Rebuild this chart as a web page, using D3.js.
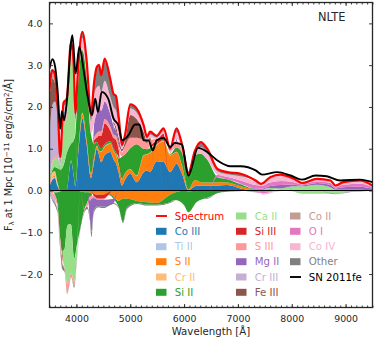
<!DOCTYPE html>
<html>
<head>
<meta charset="utf-8">
<script src="https://d3js.org/d3.v7.min.js"></script>
<style>
  html, body { margin: 0; padding: 0; background: #fff; }
  svg { display: block; }
  text { font-family: "DejaVu Sans", sans-serif; fill: #262626; }
</style>
</head>
<body>
<svg id="chart" width="374" height="341"></svg>
<script>
// emission side (stacked above zero)
var waves = [3500,3550,3600,3650,3700,3760,3820,3900,3950,3980, 4030,4110,4190,4270,4330,4380,4420,4460,4525,4630, 4690,4735,4790,4845,4900,5000,5120,5250,5310,5370, 5490,5620,5740,5860,5960,6080,6200,6310,6430,6620, 6800,7050,7330,7430,7600,7790,8040,8190,8470,8720, 8810,8960,9270,9500];
var coIII  = [.1,.25,.3,.1,0,0,0,.7,.35,.1, .8,1.72,1.1,.3,.7,1,.85,.68,.85,.92, .75,.65,.4,.12,.25,.4,.2,.44,.48,.45, .7,.68,.44,.64,.4,0,.1,.12,.12,.12, .13,.05,0,0,0,0,0,0,0,0, 0,0,0,0];
var tiII   = [.02,.03,.03,.01,0,0,0,0,0,0, 0,0,0,0,0,0,0,0,0,0, 0,0,0,0,0,0,0,0,0,0, 0,0,0,0,0,0,0,0,0,0, 0,0,0,0,0,0,0,0,0,0, 0,0,0,0];
var sII    = [.02,.03,.03,.02,0,0,0,.02,0,0, .05,.12,.1,.1,.1,.06,.1,.25,.2,.2, .2,.2,.2,.15,.15,.1,.15,.4,.38,.45, .38,.5,.4,.28,.2,.02,.15,.08,.07,.08, .06,.05,.02,.01,.01,.01,0,0,0,0, 0,0,0,0];
var crII   = [.08,.12,.1,.05,0,0,0,0,0,0, 0,.02,.01,.01,.01,.01,.01,.01,.01,.01, .01,.01,.01,.01,.01,.01,.01,.01,.01,.01, .01,.01,.01,.01,.01,0,0,0,0,0, 0,0,0,0,0,0,0,0,0,0, 0,0,0,0];
var siII   = [.05,.05,.1,.35,.5,.6,.9,.4,.85,1.25, 1.65,1.5,1.5,.95,.3,.1,.1,.07,.05,.05, .05,.05,.15,.53,.45,.5,.75,.15,.12,.1, .02,.02,.02,.1,.3,.36,.6,.68,.55,.12, .08,.05,.01,.01,.02,0,0,0,0,0, 0,0,0,0];
var caII   = [.05,.15,.2,.25,.1,.9,.85,2.1,1.55,.2, 0,0,0,0,0,0,0,0,0,0, 0,0,0,0,0,0,0,0,0,0, 0,0,0,0,0,0,0,0,0,0, 0,0,0,0,.03,.04,.1,.1,.14,.08, .02,.02,.02,.01];
var siIII  = [0,0,0,0,0,0,0,0,0,0, 0,0,0,0,.1,.1,.25,.3,.5,.25, .25,.3,.2,0,0,0,0,0,0,.05, .08,.15,0,0,0,0,0,0,0,0, 0,0,0,0,0,0,0,0,0,0, 0,0,0,0];
var sIII   = [0,.05,.05,.05,0,.1,.1,.1,.05,0, 0,.04,0,0,.05,.1,.1,.1,.1,.1, .08,.1,.1,.1,.2,.25,.15,.2,.15,.15, .04,0,.04,.15,.05,0,0,0,0,0, 0,0,0,0,0,0,0,0,0,0, 0,0,0,0];
var mgII   = [0,0,0,0,0,0,0,0,0,0, 0,0,0,0,.35,.5,.55,.5,.42,.3, .2,.12,.08,.03,0,0,0,0,0,0, 0,0,0,.05,0,0,0,0,0,0, 0,.02,.02,.02,.05,.08,.04,.02,.04,.05, .03,.06,.07,.03];
var crIII  = [1,1.35,1.32,.98,.15,.25,.1,.05,0,0, 0,0,0,0,0,0,0,0,0,0, .05,0,0,0,0,0,0,0,0,0, 0,0,0,0,0,0,0,0,0,0, 0,0,0,0,0,0,0,0,0,0, 0,0,0,0];
var feIII  = [.9,.65,.45,.15,0,0,0,0,0,0, 0,0,0,0,0,0,0,0,0,0, .05,.1,.1,.05,.1,.55,.45,.2,.05,.05, 0,0,0,0,0,0,0,0,0,0, 0,0,0,0,0,0,0,0,0,0, 0,0,0,0];
var coII   = [.2,.2,.2,.15,0,0,0,0,0,0, 0,0,0,0,0,0,0,0,0,0, 0,0,0,0,0,0,0,0,0,0, 0,0,0,0,0,0,0,0,0,0, 0,0,0,0,0,0,0,0,0,0, 0,0,0,0];
var oI     = [0,0,0,0,0,0,0,0,0,0, 0,0,0,0,0,0,0,0,0,0, 0,0,0,0,0,0,0,0,0,0, 0,0,0,0,0,0,0,0,0,.06, .06,.07,.08,.07,.08,.1,.06,.03,.04,.05, .03,.06,.07,.04];
var coIV   = [0,0,0,0,0,.15,.15,.1,.1,.15, .25,.25,.25,.3,.7,.6,.55,.45,.5,.4, .35,.38,.27,.06,.1,.15,.15,.1,.05,.08, .04,.06,.05,.16,.1,0,.05,.16,.16,.08, .06,.1,.08,.05,.12,.14,.08,.03,.06,.06, .04,.06,.08,.04];
var other  = [0,0,0,0,.05,.1,.1,.08,.1,.15, .15,.15,.15,.15,.3,.49,.5,.4,.53,.43, .32,.35,.2,.04,.05,.1,.1,.06,.05,.07, .04,.07,.05,.1,.05,.04,.05,.12,.1,.06, .05,.06,.03,0,.01,.01,0,0,0,0, 0,0,0,0];

// absorption side (stacked below zero)
var wavesAbs = [3500,3550,3600,3650,3690,3735,3780,3830,3870,3900, 3960,4010,4070,4150,4200,4250,4280,4320,4400,4500, 4690,4785,4865,4940,5125,5310,5490,5740,5830,6000, 6080,6230,6420,6700,7000,7350,7470,7700,8000,8200, 8500,8800,9200,9500];
var tiIIAbs  = [.02,.04,.05,.04,.03,0,0,0,0,0, 0,0,0,0,0,0,0,0,0,0, 0,0,0,0,0,0,0,0,0,0, 0,0,0,0,0,0,0,0,0,0, 0,0,0,0];
var sIIAbs   = [0,.02,0,0,0,0,0,0,0,0, 0,0,.02,.04,.04,.05,.08,.08,.1,.1, .15,.25,.2,.2,.25,.28,.3,.1,.05,0, .02,0,0,0,0,0,0,0,0,0, 0,0,0,0];
var siIIAbs  = [0,0,.05,.3,1,1.45,1.4,.85,.8,.82, 1.63,1.3,.9,.4,.25,.1,.05,0,0,0, .05,.15,.55,.2,.05,.06,.04,.18,.18,.35, .5,.28,.18,.04,.02,0,0,0,0,0, 0,0,0,0];
var caIIAbs  = [0,0,0,0,0,.1,.45,1.4,1.3,1.15, .55,.25,0,0,0,0,0,0,0,0, 0,0,0,0,0,0,0,0,0,0, 0,0,0,0,0,0,0,0,.02,.08, .08,.08,.01,0];
var siIIIAbs = [0,0,0,0,0,.15,0,0,0,0, 0,0,0,0,0,0,0,.05,.1,.1, 0,0,0,0,0,0,0,0,0,0, 0,0,0,0,0,0,0,0,0,0, 0,0,0,0];
var sIIIAbs  = [0,.05,.1,.1,.15,.05,.05,.2,.15,.08, .1,.03,0,.05,.1,.1,.07,.05,.02,.02, 0,0,0,0,0,0,0,0,0,0, 0,0,0,0,0,0,0,0,0,0, 0,0,0,0];
var mgIIAbs  = [0,0,0,0,0,0,0,0,0,0, 0,0,0,0,0,.4,.8,.3,.15,.17, .1,0,0,0,0,0,0,0,0,0, 0,0,0,0,0,.03,.03,.01,0,0, 0,.01,.01,0];
var crIIIAbs = [0,.1,.1,.06,0,0,0,0,0,0, 0,0,0,0,0,0,0,0,0,0, 0,0,0,0,0,0,0,0,0,0, 0,0,0,0,0,0,0,0,0,0, 0,0,0,0];
var oIAbs    = [0,0,0,0,0,0,0,0,0,0, 0,0,0,0,0,0,0,0,0,0, 0,0,0,0,0,0,0,0,0,0, 0,0,0,0,0,.02,.04,.01,0,0, 0,0,.01,0];
var coIVAbs  = [0,0,0,0,0,0,0,0,0,0, 0,0,0,0,0,0,0,0,0,0, 0,0,0,0,0,0,0,0,0,0, 0,0,0,0,0,0,.03,.01,0,0, 0,0,0,0];
var otherAbs = [.03,.03,.05,.05,.1,.12,.05,.02,.02,.02, .05,.05,.04,.03,.05,.07,.12,.07,.03,.03, .02,.02,.03,.04,.02,.02,.02,.02,.01,0, 0,0,.02,0,0,0,0,0,0,0, 0,0,0,0];

// observed spectrum
var obsWaves = [3500,3555,3605,3650,3700,3730,3770,3820,3900,3925,3985,4055,4130,4210,4290,4350,4400,4470,4590,4690,4780,4850,4965,5090,5170,5250,5340,5420,5490,5620,5740,5830,5960,6080,6260,6430,6620,6860,7050,7330,7450,7730,7980,8190,8440,8650,8900,9270,9500];
var obsFlux  = [2.92,3.14,2.96,2.4,1.48,1.9,1.68,2.1,3.55,3.72,2.8,3.44,2.92,2.24,1.8,2.2,1.88,2.36,2.2,1.72,1.56,1.2,1.32,1.58,1.58,1.2,1.2,.96,1.2,1.26,1.04,1.14,1.1,.36,1.02,.92,.72,.58,.58,.48,.38,.44,.36,.26,.36,.34,.24,.26,.2];

var ionNames  = ["Co III","Ti II","S II","Cr II","Si II","Ca II","Si III","S III","Mg II","Cr III","Fe III","Co II","O I","Co IV","Other"];
var ionColors = ["#1f77b4","#aec7e8","#ff7f0e","#ffbb78","#2ca02c","#98df8a","#d62728","#ff9896","#9467bd","#c5b0d5","#8c564b","#c49c94","#e377c2","#f7b6d2","#7f7f7f"];
var xTicks = [4000,5000,6000,7000,8000,9000];
var yTicks = [-2,-1,0,1,2,3,4];

var emission = [coIII,tiII,sII,crII,siII,caII,siIII,sIII,mgII,crIII,feIII,coII,oI,coIV,other];
var absorption = {"Ti II":tiIIAbs,"S II":sIIAbs,"Si II":siIIAbs,"Ca II":caIIAbs,"Si III":siIIIAbs,"S III":sIIIAbs,"Mg II":mgIIAbs,"Cr III":crIIIAbs,"O I":oIAbs,"Co IV":coIVAbs,"Other":otherAbs};

var svg = d3.select("#chart");
var left = 49.5, right = 372.5, top_ = 2.5, bottom = 307.5;

var x = d3.scaleLinear().domain([3500, 9500]).range([left, right]);
var y = d3.scaleLinear().domain([-2.8, 4.5]).range([bottom, top_]);
var color = d3.scaleOrdinal().domain(ionNames).range(ionColors);

svg.append("clipPath").attr("id", "plot")
  .append("rect")
  .attr("x", left).attr("y", top_)
  .attr("width", right - left).attr("height", bottom - top_);

var g = svg.append("g").attr("clip-path", "url(#plot)");

var rowsUp = waves.map(function (w, i) {
  var row = { wave: w };
  ionNames.forEach(function (n, k) { row[n] = emission[k][i]; });
  return row;
});
var absKeys = ionNames.filter(function (n) { return absorption[n]; });
var rowsDown = wavesAbs.map(function (w, i) {
  var row = { wave: w };
  absKeys.forEach(function (n) { row[n] = -absorption[n][i]; });
  return row;
});

var stack = d3.stack().offset(d3.stackOffsetDiverging);
var area = d3.area()
  .curve(d3.curveMonotoneX)
  .x(function (d) { return x(d.data.wave); })
  .y0(function (d) { return y(d[0]); })
  .y1(function (d) { return y(d[1]); });

g.selectAll(".up")
  .data(stack.keys(ionNames)(rowsUp))
  .join("path")
  .attr("class", "up")
  .attr("fill", function (d) { return color(d.key); })
  .attr("d", area);

g.selectAll(".down")
  .data(stack.keys(absKeys)(rowsDown))
  .join("path")
  .attr("class", "down")
  .attr("fill", function (d) { return color(d.key); })
  .attr("d", area);

// zero line
g.append("line")
  .attr("x1", left).attr("x2", right)
  .attr("y1", y(0)).attr("y2", y(0))
  .attr("stroke", "black").attr("stroke-width", 1.2);

var line = d3.line()
  .curve(d3.curveMonotoneX)
  .x(function (d) { return x(d.wave); })
  .y(function (d) { return y(d.flux); });

// the model spectrum is the top of the emission stack
var spectrum = rowsUp.map(function (r) {
  return { wave: r.wave, flux: d3.sum(ionNames, function (n) { return r[n]; }) };
});
g.append("path")
  .attr("d", line(spectrum))
  .attr("fill", "none")
  .attr("stroke", "#ff0000")
  .attr("stroke-width", 2.2);

g.append("path")
  .attr("d", line(obsWaves.map(function (w, i) { return { wave: w, flux: obsFlux[i] }; })))
  .attr("fill", "none")
  .attr("stroke", "black")
  .attr("stroke-width", 1.9);

// axes, ticks inward except on the labelled sides
function styleAxis(sel) {
  sel.select(".domain").remove();
  sel.selectAll("line").attr("stroke", "#262626").attr("stroke-width", 0.9);
  sel.selectAll("text").attr("font-size", 9.4).attr("fill", "#262626");
}
var minor = d3.range(3500, 9501, 100);

svg.append("g").attr("transform", "translate(0," + bottom + ")")
  .call(d3.axisBottom(x).tickValues(xTicks).tickFormat(d3.format("d")).tickSize(-3.5).tickPadding(8))
  .call(styleAxis);
svg.append("g").attr("transform", "translate(0," + bottom + ")")
  .call(d3.axisBottom(x).tickValues(minor).tickFormat("").tickSize(-2))
  .call(styleAxis);
svg.append("g").attr("transform", "translate(0," + top_ + ")")
  .call(d3.axisTop(x).tickValues(xTicks).tickFormat("").tickSize(-3.5))
  .call(styleAxis);
svg.append("g").attr("transform", "translate(0," + top_ + ")")
  .call(d3.axisTop(x).tickValues(minor).tickFormat("").tickSize(-2))
  .call(styleAxis);
svg.append("g").attr("transform", "translate(" + left + ",0)")
  .call(d3.axisLeft(y).tickValues(yTicks).tickFormat(d3.format(".1f")).tickSize(-3.5).tickPadding(7))
  .call(styleAxis);
svg.append("g").attr("transform", "translate(" + right + ",0)")
  .call(d3.axisRight(y).tickValues(yTicks).tickFormat("").tickSize(-3.5))
  .call(styleAxis);

svg.append("rect")
  .attr("x", left).attr("y", top_)
  .attr("width", right - left).attr("height", bottom - top_)
  .attr("fill", "none").attr("stroke", "#262626").attr("stroke-width", 1.3);

svg.append("text")
  .attr("x", 211).attr("y", 335)
  .attr("text-anchor", "middle")
  .attr("font-size", 10.2)
  .text("Wavelength [Å]");

var yLabel = svg.append("text")
  .attr("transform", "translate(12,155) rotate(-90)")
  .attr("text-anchor", "middle")
  .attr("font-size", 9.7);
yLabel.append("tspan").text("F");
yLabel.append("tspan").attr("font-size", 7).attr("dy", 2).text("λ");
yLabel.append("tspan").attr("dy", -2).text(" at 1 Mpc [10");
yLabel.append("tspan").attr("font-size", 7).attr("dy", -3.5).text("−11");
yLabel.append("tspan").attr("dy", 3.5).text(" erg/s/cm");
yLabel.append("tspan").attr("font-size", 7).attr("dy", -3.5).text("2");
yLabel.append("tspan").attr("dy", 3.5).text("/Å]");

svg.append("text")
  .attr("x", 318).attr("y", 21)
  .attr("font-size", 11.4)
  .text("NLTE");

// legend, filled column by column
var legendItems = ["Spectrum"].concat(ionNames, ["SN 2011fe"]);
var legendCols = [156, 236, 290];
var legendRows = [216, 231.3, 246.7, 261.7, 277, 292.3];
var legendColor = function (n) {
  return n === "Spectrum" ? "#ff0000" : n === "SN 2011fe" ? "black" : color(n);
};

var legend = svg.selectAll(".legend-item")
  .data(legendItems)
  .join("g")
  .attr("class", "legend-item")
  .attr("transform", function (d, i) {
    return "translate(" + legendCols[Math.floor(i / 6)] + "," + legendRows[i % 6] + ")";
  });

legend.filter(function (d) { return d === "Spectrum" || d === "SN 2011fe"; })
  .append("line")
  .attr("x1", 0).attr("x2", 11)
  .attr("stroke", legendColor)
  .attr("stroke-width", 1.9);

legend.filter(function (d) { return d !== "Spectrum" && d !== "SN 2011fe"; })
  .append("rect")
  .attr("x", 0).attr("y", -3.5)
  .attr("width", 10.5).attr("height", 7)
  .attr("fill", legendColor);

legend.append("text")
  .attr("x", 18.7).attr("y", 3.6)
  .attr("font-size", 10.2)
  .style("fill", legendColor)
  .text(function (d) { return d; });
</script>
</body>
</html>
